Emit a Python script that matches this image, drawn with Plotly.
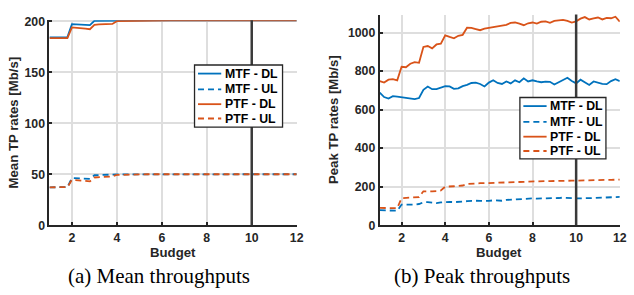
import plotly.graph_objects as go

# ---------------- data ----------------
budget = [1.0, 1.2, 1.4, 1.6, 1.8, 2.0, 2.2, 2.4, 2.6, 2.8,
          3.0, 3.2, 3.4, 3.6, 3.8, 4.0, 4.2, 4.4, 4.6, 4.8,
          5.0, 5.2, 5.4, 5.6, 5.8, 6.0, 6.2, 6.4, 6.6, 6.8,
          7.0, 7.2, 7.4, 7.6, 7.8, 8.0, 8.2, 8.4, 8.6, 8.8,
          9.0, 9.2, 9.4, 9.6, 9.8, 10.0, 10.2, 10.4, 10.6, 10.8,
          11.0, 11.2, 11.4, 11.6, 11.8, 12.0]

mean_mtf_dl = [184.3, 184.3, 184.2, 184.3, 184.5, 197.2, 197.0, 196.8, 196.5, 196.3,
               200.5, 200.6, 200.6, 200.7, 200.8, 201.0, 201.0, 201.0, 201.1, 201.1,
               201.1, 201.1, 201.1, 201.1, 201.1, 201.1, 201.1, 201.1, 201.1, 201.1,
               201.1, 201.1, 201.1, 201.1, 201.1, 201.1, 201.1, 201.1, 201.1, 201.1,
               201.1, 201.1, 201.1, 201.1, 201.1, 201.1, 201.1, 201.1, 201.1, 201.1,
               201.1, 201.1, 201.1, 201.1, 201.1, 201.1]
mean_mtf_ul = [37.2, 37.2, 37.2, 37.2, 37.3, 46.2, 46.0, 45.8, 45.6, 45.5,
               49.0, 49.3, 49.4, 49.5, 49.6, 49.8, 49.9, 49.9, 50.0, 50.0,
               50.0, 50.0, 50.0, 50.0, 50.0, 50.0, 50.0, 50.0, 50.0, 50.0,
               50.0, 50.0, 50.0, 50.0, 50.0, 50.0, 50.0, 50.0, 50.0, 50.0,
               50.0, 50.0, 50.0, 50.0, 50.0, 50.0, 50.0, 50.0, 50.0, 50.0,
               50.0, 50.0, 50.0, 50.0, 50.0, 50.0]
mean_ptf_dl = [183.5, 183.5, 183.5, 183.5, 183.6, 194.0, 193.8, 193.3, 192.8, 192.3,
               196.5, 197.0, 197.2, 197.3, 197.5, 200.2, 200.3, 200.4, 200.5, 200.7,
               201.0, 201.0, 201.1, 201.1, 201.1, 201.1, 201.1, 201.1, 201.1, 201.1,
               201.1, 201.1, 201.1, 201.1, 201.1, 201.1, 201.1, 201.1, 201.1, 201.1,
               201.1, 201.1, 201.1, 201.1, 201.1, 201.1, 201.1, 201.1, 201.1, 201.1,
               201.1, 201.1, 201.1, 201.1, 201.1, 201.1]
mean_ptf_ul = [37.2, 37.2, 37.2, 37.2, 37.3, 44.5, 44.2, 43.8, 43.3, 43.0,
               46.8, 47.2, 47.5, 47.7, 47.9, 49.3, 49.5, 49.6, 49.7, 49.8,
               50.0, 50.0, 50.0, 50.0, 50.0, 50.0, 50.0, 50.0, 50.0, 50.0,
               50.0, 50.0, 50.0, 50.0, 50.0, 50.0, 50.0, 50.0, 50.0, 50.0,
               50.0, 50.0, 50.0, 50.0, 50.0, 50.0, 50.0, 50.0, 50.0, 50.0,
               50.0, 50.0, 50.0, 50.0, 50.0, 50.0]

peak_mtf_dl = [688, 665, 657, 670, 667, 663, 660, 656, 654, 660,
               703, 720, 706, 706, 716, 722, 720, 708, 710, 722,
               728, 738, 740, 733, 720, 740, 752, 738, 733, 746,
               736, 752, 742, 762, 746, 752, 746, 742, 745, 744,
               730, 742, 752, 765, 748, 736, 755, 740, 728, 746,
               738, 733, 732, 748, 758, 748]
peak_mtf_ul = [78, 78, 78, 77, 75, 107, 107, 106, 107, 110,
               119, 120, 117, 115, 118, 121, 121, 120, 120, 122,
               125, 127, 127, 126, 125, 126, 129, 128, 127, 131,
               133, 134, 135, 136, 139, 139, 138, 138, 139, 138,
               140, 141, 143, 143, 140, 139, 138, 140, 140, 141,
               142, 141, 142, 143, 145, 147]
peak_ptf_dl = [748, 740, 755, 758, 752, 822, 820, 838, 846, 843,
               925, 930, 918, 938, 942, 985, 977, 970, 983, 988,
               1025, 1024, 1018, 1012, 1020, 1023, 1027, 1032, 1036, 1040,
               1050, 1052, 1046, 1038, 1048, 1052, 1046, 1056, 1058, 1050,
               1060, 1062, 1066, 1060, 1052, 1058, 1072, 1080, 1068, 1074,
               1078, 1068, 1076, 1074, 1082, 1056]
peak_ptf_ul = [90, 90, 90, 89, 88, 140, 142, 144, 143, 146,
               176, 175, 176, 177, 180, 200, 200, 202, 204, 206,
               214, 216, 217, 218, 218, 219, 219, 221, 222, 223,
               224, 224, 225, 226, 226, 227, 227, 228, 229, 229,
               230, 230, 230, 231, 231, 231, 232, 233, 233, 233,
               234, 234, 235, 235, 236, 237]

series_names = ["MTF - DL", "MTF - UL", "PTF - DL", "PTF - UL"]
xticks = [2, 4, 6, 8, 10, 12]
mean_yticks = [0, 50, 100, 150, 200]
peak_yticks = [0, 200, 400, 600, 800, 1000]
marker_budget = 10

# ---------------- styling ----------------
FW, FH = 634, 295
BLUE = "#0072BD"
ORANGE = "#D95319"
AX = "#262626"
GRID = "#dedede"
FONT = "Liberation Sans, Arial, sans-serif"
SERIF = "Liberation Serif, Times New Roman, serif"


def px_x(p):
    return p / FW


def px_y(p):
    return 1 - p / FH


fig = go.Figure()

styles = [(BLUE, "solid"), (BLUE, "6px,4px"), (ORANGE, "solid"), (ORANGE, "6px,4px")]
mean_series = [mean_mtf_dl, mean_mtf_ul, mean_ptf_dl, mean_ptf_ul]
peak_series = [peak_mtf_dl, peak_mtf_ul, peak_ptf_dl, peak_ptf_ul]

for name, ys, (c, d) in zip(series_names, mean_series, styles):
    fig.add_trace(go.Scatter(x=budget, y=ys, name=name, mode="lines",
                             line=dict(color=c, width=1.8, dash=d),
                             xaxis="x", yaxis="y", showlegend=False))
for name, ys, (c, d) in zip(series_names, peak_series, styles):
    fig.add_trace(go.Scatter(x=budget, y=ys, name=name, mode="lines",
                             line=dict(color=c, width=1.8, dash=d),
                             xaxis="x2", yaxis="y2", showlegend=False))

tickfont = dict(family=FONT, size=12.3, color=AX, weight="bold")
common_x = dict(range=[1, 12], tickvals=xticks, showgrid=True, gridcolor=GRID, gridwidth=1.5,
                showline=True, linecolor=AX, linewidth=2, ticks="inside", ticklen=3,
                tickwidth=1.5, tickcolor=AX, tickfont=tickfont, zeroline=False, mirror=False,
                ticklabeloverflow="allow")
common_y = dict(showgrid=True, gridcolor=GRID, gridwidth=1.5,
                showline=True, linecolor=AX, linewidth=2, ticks="inside", ticklen=3,
                tickwidth=1.5, tickcolor=AX, tickfont=tickfont, zeroline=False, mirror=False)

bottom = 229.3
fig.update_layout(
    width=FW, height=FH, margin=dict(l=0, r=0, t=0, b=0),
    paper_bgcolor="white", plot_bgcolor="white",
    xaxis=dict(domain=[px_x(50), px_x(300)], anchor="y", **common_x),
    yaxis=dict(domain=[px_y(bottom), px_y(15)], anchor="x", range=[0, 201],
               tickvals=mean_yticks, **common_y),
    xaxis2=dict(domain=[px_x(384), px_x(626.7)], anchor="y2", **common_x),
    yaxis2=dict(domain=[px_y(bottom), px_y(9)], anchor="x2", range=[0, 1093],
                tickvals=peak_yticks, **common_y),
    showlegend=False,
)

# vertical marker lines at budget 10
for xr, yr in [("x", "y domain"), ("x2", "y2 domain")]:
    fig.add_shape(type="line", xref=xr, yref=yr, x0=marker_budget, x1=marker_budget,
                  y0=0, y1=1, line=dict(color="#3a3a3a", width=2.5), layer="above")

# legends (one box per panel)
legfont = dict(family=FONT, size=12.3, color="black", weight="bold")
entry_dy = [9.0, 25.6, 41.0, 56.0]
for (bx, by, bw, bh) in [(196.7, 61.7, 89, 65), (525.7, 95.7, 87, 64.3)]:
    fig.add_shape(type="rect", xref="paper", yref="paper",
                  x0=px_x(bx), x1=px_x(bx + bw), y0=px_y(by + bh), y1=px_y(by),
                  fillcolor="white", line=dict(color=AX, width=1.3), layer="above")
    for name, (c, d), dy in zip(series_names, styles, entry_dy):
        yy = px_y(by + dy)
        fig.add_shape(type="line", xref="paper", yref="paper",
                      x0=px_x(bx + 3.5), x1=px_x(bx + 27), y0=yy, y1=yy,
                      line=dict(color=c, width=1.8, dash=d), layer="above")
        fig.add_annotation(xref="paper", yref="paper", showarrow=False,
                           x=px_x(bx + 28.5), y=yy, xanchor="left", yanchor="middle",
                           text=name, font=legfont)

labfont = dict(family=FONT, size=13.2, color=AX, weight="bold")
capfont = dict(family=SERIF, size=21, color="black")
annots = [
    dict(text="Budget", x=px_x(175), y=px_y(258), font=labfont),
    dict(text="Budget", x=px_x(505), y=px_y(258), font=labfont),
    dict(text="Mean TP rates [Mb/s]", x=px_x(14), y=px_y(122), textangle=-90, font=labfont),
    dict(text="Peak TP rates [Mb/s]", x=px_x(337), y=px_y(119), textangle=-90, font=labfont),
    dict(text="(a) Mean throughputs", x=px_x(161), y=px_y(282), font=capfont),
    dict(text="(b) Peak throughputs", x=px_x(487.5), y=px_y(282), font=capfont),
]
for a in annots:
    fig.add_annotation(xref="paper", yref="paper", showarrow=False,
                       xanchor="center", yanchor="middle", **a)

# remove the default page margin so the 634x295 figure fills the window exactly
fig.write_html("out.html",
               config={"displayModeBar": False},
               post_script="document.body.style.margin='0px';"
                           "document.documentElement.style.overflow='hidden';")
